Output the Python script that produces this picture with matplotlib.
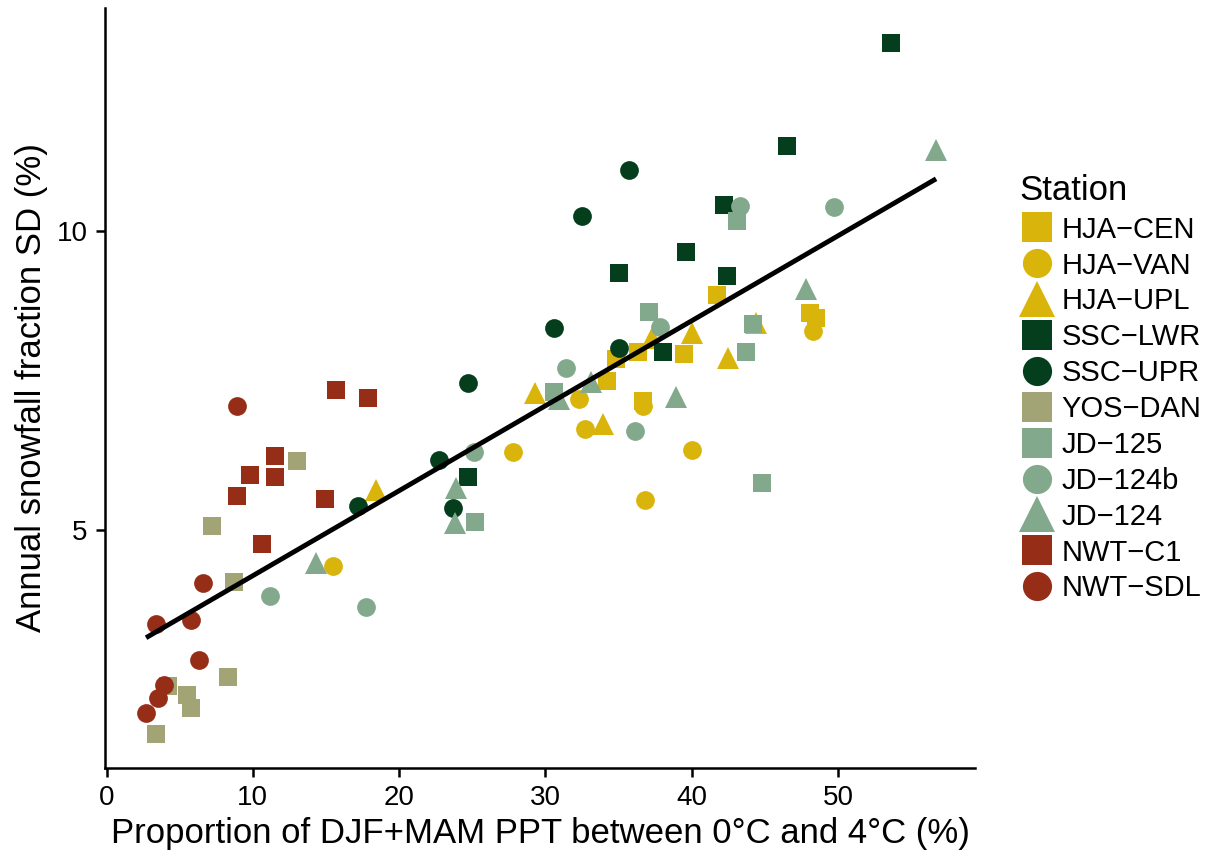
"""Snowfall fraction SD vs proportion of near-freezing precipitation."""

import numpy as np
import matplotlib
matplotlib.use("Agg")
import matplotlib.pyplot as plt
from matplotlib.lines import Line2D

plt.rcParams['font.family'] = ['Liberation Sans', 'DejaVu Sans']

# --- data (x = % of DJF+MAM PPT between 0 and 4 C, y = SD %)
hja_cen_x = [41.7, 48.1, 48.5, 34.8, 36.3, 39.5, 34.2, 36.7]
hja_cen_y = [8.92, 8.62, 8.55, 7.86, 7.98, 7.95, 7.49, 7.16]
hja_van_x = [15.5, 27.8, 32.3, 32.7, 36.7, 40.0, 36.8, 48.3]
hja_van_y = [4.41, 6.31, 7.20, 6.69, 7.07, 6.35, 5.51, 8.32]
hja_upl_x = [18.4, 29.3, 33.9, 37.3, 40.0, 42.5, 44.4]
hja_upl_y = [5.67, 7.29, 6.78, 8.21, 8.29, 7.88, 8.46]
ssc_lwr_x = [53.6, 46.5, 42.2, 39.6, 35.0, 42.4, 38.0, 24.7]
ssc_lwr_y = [13.13, 11.42, 10.43, 9.64, 9.30, 9.25, 7.98, 5.89]
ssc_upr_x = [35.7, 32.5, 30.6, 35.0, 24.7, 22.7, 23.7, 17.2]
ssc_upr_y = [11.02, 10.25, 8.37, 8.04, 7.46, 6.17, 5.37, 5.40]
yos_dan_x = [13.0, 7.2, 8.7, 8.3, 4.2, 5.5, 5.8, 3.4]
yos_dan_y = [6.16, 5.07, 4.14, 2.56, 2.41, 2.25, 2.03, 1.61]
jd125_x = [25.2, 30.6, 37.1, 44.2, 43.7, 44.8, 43.1]
jd125_y = [5.14, 7.31, 8.65, 8.44, 7.97, 5.79, 10.17]
jd124b_x = [11.2, 17.7, 25.1, 31.4, 37.8, 36.1, 43.3, 49.7]
jd124b_y = [3.90, 3.73, 6.31, 7.71, 8.40, 6.66, 10.41, 10.40]
jd124_x = [14.3, 23.9, 23.8, 30.9, 33.1, 38.9, 47.8, 56.7]
jd124_y = [4.45, 5.71, 5.12, 7.20, 7.48, 7.22, 9.02, 11.35]
nwt_c1_x = [15.7, 17.9, 11.5, 9.8, 11.5, 8.9, 14.9, 10.6]
nwt_c1_y = [7.34, 7.21, 6.24, 5.92, 5.89, 5.57, 5.52, 4.77]
nwt_sdl_x = [2.7, 3.5, 3.9, 3.4, 5.8, 6.3, 6.6, 8.9]
nwt_sdl_y = [1.96, 2.21, 2.42, 3.44, 3.51, 2.84, 4.13, 7.07]

yellow = '#d9b40b'
dkgreen = '#043e1d'
tan = '#a2a476'
sage = '#83a98c'
red = '#962d17'

stations = [
    ('HJA\u2212CEN', hja_cen_x, hja_cen_y, yellow, 's'),
    ('HJA\u2212VAN', hja_van_x, hja_van_y, yellow, 'o'),
    ('HJA\u2212UPL', hja_upl_x, hja_upl_y, yellow, '^'),
    ('SSC\u2212LWR', ssc_lwr_x, ssc_lwr_y, dkgreen, 's'),
    ('SSC\u2212UPR', ssc_upr_x, ssc_upr_y, dkgreen, 'o'),
    ('YOS\u2212DAN', yos_dan_x, yos_dan_y, tan, 's'),
    ('JD\u2212125', jd125_x, jd125_y, sage, 's'),
    ('JD\u2212124b', jd124b_x, jd124b_y, sage, 'o'),
    ('JD\u2212124', jd124_x, jd124_y, sage, '^'),
    ('NWT\u2212C1', nwt_c1_x, nwt_c1_y, red, 's'),
    ('NWT\u2212SDL', nwt_sdl_x, nwt_sdl_y, red, 'o'),
]

msize = {'s': 13, 'o': 13.5, '^': 15.5}
lsize = {'s': 21, 'o': 21, '^': 26}

fig = plt.figure(figsize=(12.08, 8.56), dpi=100)
ax = fig.add_axes([0.087, 0.103, 0.72, 0.888])

for name, xs, ys, col, mk in stations:
    ax.plot(xs, ys, linestyle='none', marker=mk, markersize=msize[mk],
            color=col, markeredgewidth=0)

# linear fit over all points
allx = np.concatenate([np.asarray(s[1]) for s in stations])
ally = np.concatenate([np.asarray(s[2]) for s in stations])
slope, icpt = np.polyfit(allx, ally, 1)
fx = np.array([allx.min(), allx.max()])
ax.plot(fx, icpt + slope * fx, color='black', lw=3.5, solid_capstyle='butt')

ax.set_xlim(-0.1, 59.35)
ax.set_ylim(1.04, 13.72)
ax.set_xticks([0, 10, 20, 30, 40, 50])
ax.set_yticks([5, 10])
for side in ['top', 'right']:
    ax.spines[side].set_visible(False)
for side in ['left', 'bottom']:
    ax.spines[side].set_linewidth(1.8)
ax.tick_params(direction='out', length=6.5, width=1.8, labelsize=20,
               colors='black', pad=6)
ax.set_xlabel('Proportion of DJF+MAM PPT between 0\u00b0C and 4\u00b0C (%)',
              fontsize=25, labelpad=4)
ax.set_ylabel('Annual snowfall fraction SD (%)', fontsize=25, labelpad=6)

handles = [Line2D([], [], linestyle='none', marker=mk, markersize=lsize[mk],
                  color=col, markeredgewidth=0, label=name)
           for name, xs, ys, col, mk in stations]
leg = fig.legend(handles=handles, title='Station', loc='upper left',
                 bbox_to_anchor=(0.834, 0.81), frameon=False, fontsize=21,
                 title_fontsize=25, handlelength=1.2, handletextpad=0.25,
                 labelspacing=0.27, alignment='left', borderaxespad=0)
leg._legend_box.sep = 6

fig.savefig('out.png', dpi=100)
